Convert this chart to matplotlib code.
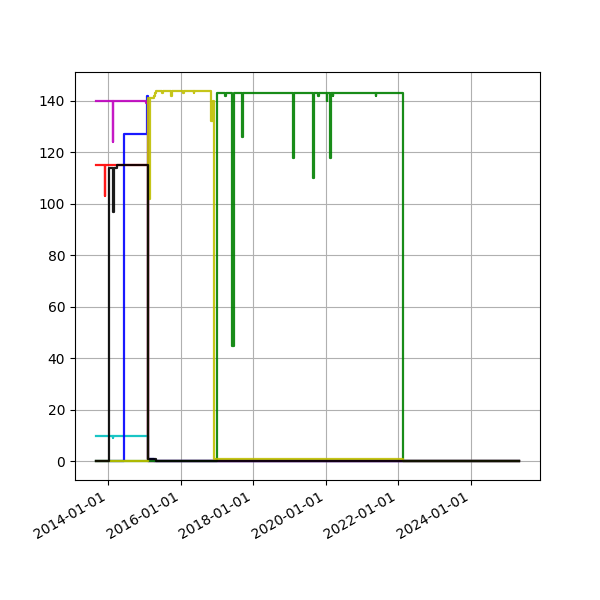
import matplotlib
matplotlib.use("Agg")
import matplotlib.pyplot as plt
import matplotlib.dates as mdates
import numpy as np

START = "2013-09-01"
END = "2025-05-01"

red_dates = [START, "2013-11-25", "2013-12-02", "2015-02-05", END]
red_vals = [115, 103, 115, 0, 0]

cyan_dates = [START, "2014-02-16", "2014-02-21", "2015-02-05", END]
cyan_vals = [10, 9, 10, 0, 0]

blue_dates = [START, "2014-06-12", "2015-01-25", "2015-02-05", "2015-04-05", END]
blue_vals = [0, 127, 142, 1, 0, 0]

magenta_dates = [START, "2014-02-14", "2014-02-22", "2015-01-15", "2015-02-07", END]
magenta_vals = [140, 124, 140, 139, 0, 0]

green_dates = [START, "2016-12-28", "2017-03-27", "2017-04-03", "2017-06-03", "2017-06-17",
               "2017-09-11", "2017-09-17", "2019-02-09", "2019-02-19", "2019-08-22",
               "2019-09-03", "2019-10-19", "2019-10-26", "2020-01-12", "2020-01-17",
               "2020-02-15", "2020-02-25", "2020-03-12", "2020-03-19", "2021-05-21",
               "2021-05-27", "2022-02-23", END]
green_vals = [0, 143, 142, 143, 45, 143,
              126, 143, 118, 143, 110,
              143, 142, 143, 140, 143,
              118, 143, 142, 143, 142,
              143, 0, 0]

yellow_dates = [START, "2015-02-07", "2015-02-13", "2015-02-23", "2015-04-05", "2015-04-15",
                "2015-04-26", "2015-06-29", "2015-07-05", "2015-09-26", "2015-10-03",
                "2016-01-27", "2016-02-01", "2016-05-12", "2016-05-17", "2016-11-03",
                "2016-11-23", "2016-11-28", "2022-02-20", END]
yellow_vals = [0, 141, 102, 141, 142, 143,
               144, 143, 144, 142, 144,
               143, 144, 143, 144, 132,
               140, 1, 0, 0]

black_dates = [START, "2014-01-06", "2014-02-16", "2014-02-23", "2014-03-29", "2015-02-05",
               "2015-04-26", END]
black_vals = [0, 114, 97, 114, 115, 1, 0, 0]

series = [
    (red_dates, red_vals, "r"),
    (cyan_dates, cyan_vals, "c"),
    (blue_dates, blue_vals, "b"),
    (magenta_dates, magenta_vals, "m"),
    (green_dates, green_vals, "g"),
    (yellow_dates, yellow_vals, "y"),
    (black_dates, black_vals, "k"),
]

fig, ax = plt.subplots(figsize=(6, 6), dpi=100)
for d, v, c in series:
    ax.plot(np.array(d, dtype="datetime64[D]"), v, color=c, drawstyle="steps-post",
            linewidth=1.6, alpha=0.9)

ax.xaxis.set_major_locator(mdates.YearLocator(2))
ax.xaxis.set_major_formatter(mdates.DateFormatter("%Y-%m-%d"))
ax.grid(True)
fig.autofmt_xdate()
fig.savefig("out.png", dpi=100)
